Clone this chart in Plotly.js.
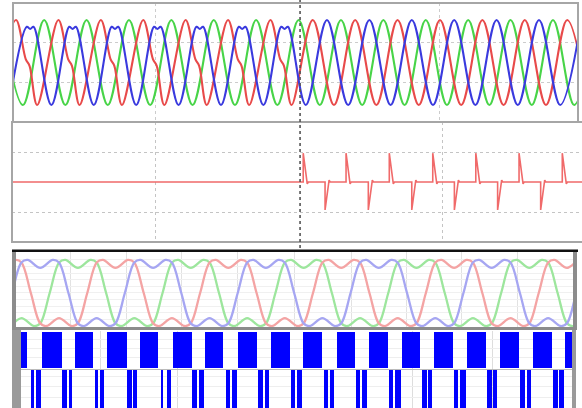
<!DOCTYPE html>
<html><head><meta charset="utf-8">
<script src="https://cdn.plot.ly/plotly-3.0.1.min.js"></script>
<style>html,body{margin:0;padding:0;background:#fff}#chart{width:582px;height:408px}</style>
</head><body><div id="chart"></div>
<script>
// ---------- Panel 1: three-phase currents (time in ms) ----------
const faultT = 135.4;
const redPeakT    = [1.4, 21.4, 41.4, 61.4, 81.4, 101.4, 121.4, 141.4, 161.4, 181.4, 201.4, 221.4, 241.4, 261.4];
const redTroughT  = [-8.6, 11.4, 31.4, 51.4, 71.4, 91.4, 111.4, 131.4, 151.4, 171.4, 191.4, 211.4, 231.4, 251.4, 271.4];
const bluePeakT   = [8.1, 28.1, 48.1, 68.1, 88.1, 108.1, 128.1, 148.1, 168.1, 188.1, 208.1, 228.1, 248.1, 268.1];
const blueTroughT = [-1.9, 18.1, 38.1, 58.1, 78.1, 98.1, 118.1, 138.1, 158.1, 178.1, 198.1, 218.1, 238.1, 258.1];
const greenPeakT  = [-5.3, 14.7, 34.7, 54.7, 74.7, 94.7, 114.7, 134.7, 154.7, 174.7, 194.7, 214.7, 234.7, 254.7, 274.7];
const greenTroughT= [4.7, 24.7, 44.7, 64.7, 84.7, 104.7, 124.7, 144.7, 164.7, 184.7, 204.7, 224.7, 244.7, 264.7];
// pre-fault distortion
const blueFlatOffset = [-1.6, 0, 1.6];
const blueFlatLevel  = [0.84, 0.79, 0.84];
const redKinkOffset  = [0, 4.6, 6.4];
const redKinkLevel   = [1, 0.08, -0.08];

// ---------- Panel 2: compensation signal spikes (ms) ----------
const posSpikeT = [136.9, 157.1, 177.5, 198.0, 218.3, 238.7, 259.1];
const negSpikeT = [147.2, 167.6, 188.1, 208.2, 228.6, 248.9];
const posSpikeV = 0.96;
const negSpikeV = -0.93;

// ---------- Panel 3: modulation waves (ms) ----------
const p3Theta = [0, 30, 50, 90, 130, 150, 180, 210, 230, 270, 310, 330];
const p3Val   = [0, 0.92, 1.0, 0.76, 1.0, 0.92, 0, -0.92, -1.0, -0.76, -1.0, -0.92];
const p3Period = 20;
const redZero3   = [-27.37, -7.37, 12.63, 32.63, 52.63, 72.63, 92.63];
const blueZero3  = [-20.71, -0.71, 19.29, 39.29, 59.29, 79.29, 99.29];
const greenZero3 = [-14.03, 5.97, 25.97, 45.97, 65.97, 85.97];

// ---------- Panel 4: switching pulses (ms) ----------
const topStart = [-1.06, 4.55, 10.45, 16.07, 21.97, 27.87, 33.48, 39.38, 45.12, 50.89, 56.81, 62.59, 68.33, 74.05, 79.84, 85.74, 91.53, 97.26];
const topEnd   = [1.90, 8.10, 13.69, 19.61, 25.21, 31.13, 36.72, 42.64, 48.54, 54.15, 60.05, 65.95, 71.57, 77.47, 83.26, 89.16, 94.90, 101.7];
const botStart = [2.63, 3.54, 8.23, 9.30, 13.97, 14.90, 19.74, 20.80, 25.66, 26.70, 31.26, 32.47, 37.17, 38.22, 42.95, 44.11, 48.69, 49.73, 54.59, 55.62, 60.20, 61.24, 66.10, 67.14, 72.00, 73.04, 77.62, 78.65, 83.52, 84.56, 89.31, 90.47, 95.21, 96.26];
const botEnd   = [3.11, 4.35, 9.00, 9.97, 14.60, 15.56, 20.50, 21.48, 26.12, 27.38, 32.02, 33.28, 37.92, 39.20, 43.80, 44.79, 49.42, 50.71, 55.32, 56.31, 60.94, 62.23, 66.84, 68.12, 72.74, 73.74, 78.35, 79.64, 84.26, 85.25, 90.17, 91.15, 95.96, 97.05];

// ---------- builders ----------
function phasePoints(peaks, troughs, offs, levs) {
  const pts = [];
  peaks.forEach(t => {
    if (offs && t < faultT) offs.forEach((o, i) => pts.push([t + o, levs[i]]));
    else pts.push([t, 1]);
  });
  troughs.forEach(t => pts.push([t, -1]));
  pts.sort((a, b) => a[0] - b[0]);
  return {x: pts.map(p => p[0]), y: pts.map(p => p[1])};
}
function spikePoints() {
  const ev = [];
  posSpikeT.forEach(t => ev.push([t, posSpikeV, -0.06]));
  negSpikeT.forEach(t => ev.push([t, negSpikeV, 0.06]));
  ev.sort((a, b) => a[0] - b[0]);
  const x = [-1], y = [0];
  ev.forEach(e => {
    x.push(e[0], e[0], e[0] + 1.9, e[0] + 2.4);
    y.push(0, e[1], e[2], 0);
  });
  x.push(270); y.push(0);
  return {x, y};
}
function modPoints(zeros) {
  const x = [], y = [];
  zeros.forEach(z => p3Theta.forEach((th, i) => { x.push(z + th / 360 * p3Period); y.push(p3Val[i]); }));
  return {x, y};
}
function barsFrom(s, e) {
  return {x: s.map((v, i) => (v + e[i]) / 2), w: s.map((v, i) => e[i] - v)};
}

const R = phasePoints(redPeakT, redTroughT, redKinkOffset, redKinkLevel);
const B = phasePoints(bluePeakT, blueTroughT, blueFlatOffset, blueFlatLevel);
const G = phasePoints(greenPeakT, greenTroughT, null, null);
const S = spikePoints();
const R3 = modPoints(redZero3), B3 = modPoints(blueZero3), G3 = modPoints(greenZero3);
const TB = barsFrom(topStart, topEnd), BB = barsFrom(botStart, botEnd);

const W = 582, H = 408;
const px = v => v / W, py = v => 1 - v / H;

const traces = [
  {x: G.x, y: G.y, xaxis: 'x', yaxis: 'y', mode: 'lines', line: {color: '#48d448', width: 2.1, shape: 'spline'}},
  {x: R.x, y: R.y, xaxis: 'x', yaxis: 'y', mode: 'lines', line: {color: '#e84a4a', width: 2.1, shape: 'spline'}},
  {x: B.x, y: B.y, xaxis: 'x', yaxis: 'y', mode: 'lines', line: {color: '#3a3ade', width: 2.1, shape: 'spline'}},
  {x: S.x, y: S.y, xaxis: 'x2', yaxis: 'y2', mode: 'lines', line: {color: '#f06a6a', width: 1.6}},
  {x: G3.x, y: G3.y, xaxis: 'x3', yaxis: 'y3', mode: 'lines', line: {color: '#9de69d', width: 2.3, shape: 'spline'}},
  {x: R3.x, y: R3.y, xaxis: 'x3', yaxis: 'y3', mode: 'lines', line: {color: '#f4a4a4', width: 2.3, shape: 'spline'}},
  {x: B3.x, y: B3.y, xaxis: 'x3', yaxis: 'y3', mode: 'lines', line: {color: '#a6a6f2', width: 2.3, shape: 'spline'}},
  {type: 'bar', x: TB.x, width: TB.w, y: TB.x.map(() => 0.47), base: 0.52, xaxis: 'x4', yaxis: 'y4', marker: {color: '#0000ff', line: {width: 0}}},
  {type: 'bar', x: BB.x, width: BB.w, y: BB.x.map(() => 0.5), base: 0, xaxis: 'x4', yaxis: 'y4', marker: {color: '#0000ff', line: {width: 0}}}
];

const ax = (o) => Object.assign({showticklabels: false, zeroline: false, showline: false, ticks: '', fixedrange: true}, o);

const layout = {
  width: W, height: H, margin: {l: 0, r: 0, t: 0, b: 0},
  paper_bgcolor: '#fff', plot_bgcolor: 'rgba(0,0,0,0)', showlegend: false, barmode: 'overlay', bargap: 0,
  xaxis:  ax({domain: [px(13), px(578)], range: [0, 266.5], anchor: 'y', tickvals: [67, 201.4], gridcolor: '#cccccc', griddash: 'dot'}),
  yaxis:  ax({domain: [py(122), py(3)], range: [-1.4, 1.4], anchor: 'x', tickvals: [-0.46, 0.46], gridcolor: '#cccccc', griddash: 'dot'}),
  xaxis2: ax({domain: [px(12), 1], range: [-0.47, 268.4], anchor: 'y2', tickvals: [67, 202.4], gridcolor: '#c4c4c4', griddash: 'dot'}),
  yaxis2: ax({domain: [py(242), py(122)], range: [-2, 2], anchor: 'x2', tickvals: [-1, 1], gridcolor: '#c4c4c4', griddash: 'dot'}),
  xaxis3: ax({domain: [px(16), px(573)], range: [0, 98.7], anchor: 'y3', tickvals: [9.57, 19.66, 29.41, 39.33, 49.42, 59.52, 69.26, 79.0, 88.93], gridcolor: '#e2e2e2'}),
  yaxis3: ax({domain: [py(327), py(252)], range: [-1.03, 1.24], anchor: 'x3', tickvals: [-0.8, -0.6, -0.4, -0.2, 0, 0.2, 0.4, 0.6, 0.8, 1.0], gridcolor: '#f0f0f0'}),
  xaxis4: ax({domain: [px(21), px(572)], range: [0.886, 98.49], anchor: 'y4', tickvals: [14.88, 28.52, 70.32, 84.32], gridcolor: '#dddddd'}),
  yaxis4: ax({domain: [0, py(331)], range: [0, 1], anchor: 'x4', tickvals: [0.14, 0.28, 0.41, 0.65, 0.77, 0.89], gridcolor: '#eeeeee'}),
  shapes: [
    {type: 'rect', xref: 'paper', yref: 'paper', x0: px(13), x1: px(578), y0: py(122), y1: py(3), line: {color: '#a6a6a6', width: 2}},
    {type: 'rect', xref: 'paper', yref: 'paper', x0: px(12), x1: px(590), y0: py(242), y1: py(122), line: {color: '#a6a6a6', width: 2}},
    {type: 'line', xref: 'x', yref: 'paper', x0: faultT, x1: faultT, y0: py(248), y1: 1, line: {color: '#555555', width: 1.6, dash: 'dot'}},
    {type: 'rect', xref: 'paper', yref: 'paper', x0: px(12), x1: px(16), y0: py(330), y1: py(251), fillcolor: '#8c8c8c', line: {width: 0}},
    {type: 'rect', xref: 'paper', yref: 'paper', x0: px(573), x1: px(577), y0: py(330), y1: py(251), fillcolor: '#8c8c8c', line: {width: 0}},
    {type: 'rect', xref: 'paper', yref: 'paper', x0: px(12), x1: px(577), y0: py(330), y1: py(327), fillcolor: '#8c8c8c', line: {width: 0}},
    {type: 'rect', xref: 'paper', yref: 'paper', x0: px(12), x1: px(578), y0: py(252), y1: py(249.5), fillcolor: '#111111', line: {width: 0}},
    {type: 'rect', xref: 'paper', yref: 'paper', x0: px(12), x1: px(21), y0: 0, y1: py(330), fillcolor: '#9a9a9a', line: {width: 0}},
    {type: 'rect', xref: 'paper', yref: 'paper', x0: px(572), x1: px(576), y0: 0, y1: py(330), fillcolor: '#9a9a9a', line: {width: 0}},
    {type: 'line', xref: 'paper', yref: 'paper', x0: px(21), x1: px(572), y0: py(369.5), y1: py(369.5), line: {color: '#bbbbbb', width: 1}}
  ]
};

Plotly.newPlot('chart', traces, layout, {staticPlot: true, displayModeBar: false});
</script>
</body></html>
